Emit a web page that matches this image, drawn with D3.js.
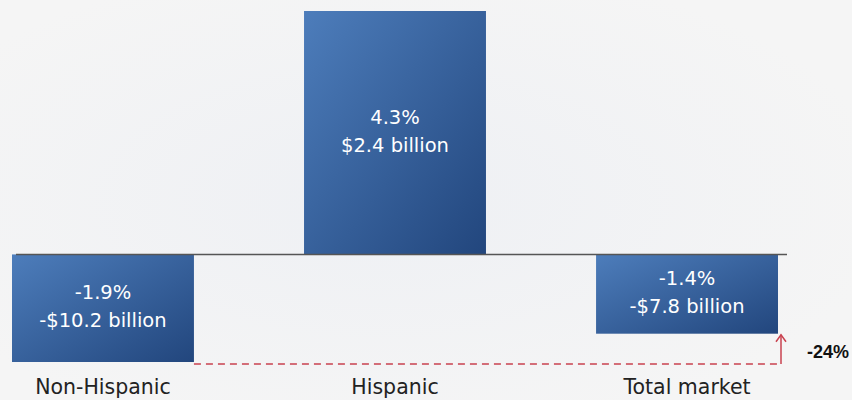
<!DOCTYPE html>
<html>
<head>
<meta charset="utf-8">
<script src="https://cdn.jsdelivr.net/npm/d3@7"></script>
<style>
  html, body { margin: 0; padding: 0; background: #f4f4f4; }
  svg { display: block; }
</style>
</head>
<body>
<svg id="chart" width="852" height="400"></svg>
<script>
// Change in spending by segment
const categories = ["Non-Hispanic", "Hispanic", "Total market"];
const pctChange = [-1.9, 4.3, -1.4];
const dollarLabels = ["-$10.2 billion", "$2.4 billion", "-$7.8 billion"];
const pctLabels = ["-1.9%", "4.3%", "-1.4%"];
const gapLabel = "-24%";

const W = 852, H = 400;
const svg = d3.select("#chart");

// soft background wash
const defs = svg.append("defs");
const bg = defs.append("radialGradient").attr("id", "bgWash")
  .attr("cx", "0.45").attr("cy", "0.5").attr("r", "0.6");
bg.append("stop").attr("offset", "0%").attr("stop-color", "#eef0f4");
bg.append("stop").attr("offset", "100%").attr("stop-color", "#f5f5f5");
svg.append("rect").attr("width", W).attr("height", H).attr("fill", "url(#bgWash)");

const barGrad = defs.append("linearGradient").attr("id", "barGrad")
  .attr("x1", "0").attr("y1", "0").attr("x2", "1").attr("y2", "1");
barGrad.append("stop").attr("offset", "0%").attr("stop-color", "#4d7dbb");
barGrad.append("stop").attr("offset", "100%").attr("stop-color", "#22467d");

const x = d3.scaleBand().domain(categories).range([12, 778]).paddingInner(0.377).paddingOuter(0);
const y = d3.scaleLinear().domain([-1.9, 4.3]).range([362, 11]);

const data = categories.map((c, i) => ({ c, v: pctChange[i], d: dollarLabels[i], p: pctLabels[i] }));

// bars
svg.selectAll("rect.bar").data(data).enter().append("rect")
  .attr("class", "bar")
  .attr("x", d => x(d.c))
  .attr("width", x.bandwidth())
  .attr("y", d => y(Math.max(0, d.v)))
  .attr("height", d => Math.abs(y(d.v) - y(0)))
  .attr("fill", "url(#barGrad)");

// zero line
svg.append("line")
  .attr("x1", 16).attr("x2", 787)
  .attr("y1", y(0)).attr("y2", y(0))
  .attr("stroke", "#555").attr("stroke-width", 1.5);

// value labels inside bars
const inner = svg.selectAll("g.lbl").data(data).enter().append("g").attr("class", "lbl")
  .attr("transform", d => `translate(${x(d.c) + x.bandwidth() / 2},${(y(0) + y(d.v)) / 2})`);
inner.append("text").attr("y", -9).text(d => d.p)
  .attr("text-anchor", "middle").attr("fill", "#fff")
  .attr("font-family", "DejaVu Sans").attr("font-size", 19.5);
inner.append("text").attr("y", 19).text(d => d.d)
  .attr("text-anchor", "middle").attr("fill", "#fff")
  .attr("font-family", "DejaVu Sans").attr("font-size", 19.5);

// category labels
svg.selectAll("text.cat").data(data).enter().append("text")
  .attr("class", "cat")
  .attr("x", d => x(d.c) + x.bandwidth() / 2)
  .attr("y", 394)
  .attr("text-anchor", "middle")
  .attr("fill", "#222")
  .attr("font-family", "DejaVu Sans")
  .attr("font-size", 20.5)
  .text(d => d.c);

// gap between Non-Hispanic and Total market bottoms
const nh = data[0], tm = data[2];
const arrowX = x(tm.c) + x.bandwidth() + 3;
svg.append("line")
  .attr("x1", x(nh.c) + x.bandwidth()).attr("x2", arrowX)
  .attr("y1", y(nh.v) + 2).attr("y2", y(nh.v) + 2)
  .attr("stroke", "#c9424f").attr("stroke-width", 1.3)
  .attr("stroke-dasharray", "7,5");
svg.append("line")
  .attr("x1", arrowX).attr("x2", arrowX)
  .attr("y1", y(nh.v) + 2).attr("y2", y(tm.v) + 1)
  .attr("stroke", "#c9424f").attr("stroke-width", 1.5);
svg.append("path")
  .attr("d", `M${arrowX - 5},${y(tm.v) + 8} L${arrowX},${y(tm.v) + 1} L${arrowX + 5},${y(tm.v) + 8}`)
  .attr("fill", "none").attr("stroke", "#c9424f").attr("stroke-width", 1.5);
svg.append("text")
  .attr("x", 828).attr("y", 358)
  .attr("text-anchor", "middle")
  .attr("font-family", "Liberation Sans")
  .attr("font-weight", "bold")
  .attr("font-size", 18)
  .attr("fill", "#111")
  .text(gapLabel);
</script>
</body>
</html>
